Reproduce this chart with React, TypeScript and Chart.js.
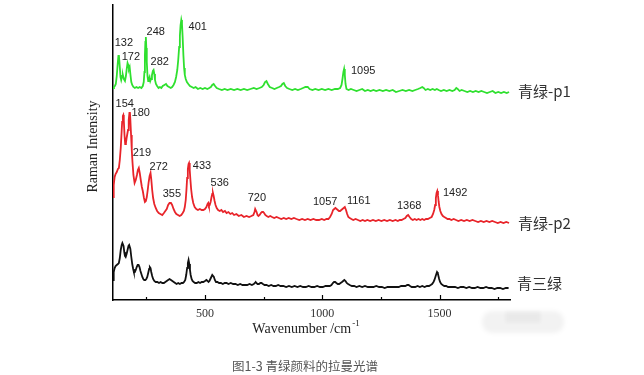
import React, { useEffect, useRef } from "react";
import { Chart, registerables } from "chart.js";

Chart.register(...registerables);

// Raman spectra: [wavenumber (cm-1), relative intensity (offset, a.u.)]
const p1Spectrum: [number, number][] = [
  [108,212],[112,213],[116,214],[120,216],[124,224],[128,236],[131,244],[133,245],[136,236],[140,223],[143,220],[147,224],[150,225],[154,221],[159,219],[163,224],[167,232],[170,237],[173,235],[176,231],[179,233],[182,226],[186,218],[190,215],[195,213],[201,212],[208,213],[215,212],[222,213],[229,212],[235,214],[239,218],[242,228],[244,245],[246,258],[248,263],[250,252],[252,238],[255,224],[258,219],[261,221],[264,223],[267,219],[270,221],[274,225],[278,229],[281,230],[284,226],[287,220],[291,216],[296,214],[302,212],[308,213],[314,212],[320,214],[327,215],[334,216],[340,214],[347,213],[354,212],[360,213],[366,215],[372,218],[377,223],[382,230],[386,240],[390,253],[393,264],[396,275],[399,280],[402,276],[405,262],[408,245],[411,232],[414,225],[418,221],[423,218],[429,216],[436,214],[444,213],[452,212],[460,213],[470,211],[480,212],[490,211],[500,212],[510,211],[518,212],[525,213],[531,215],[537,216],[543,214],[550,212],[560,211],[572,210],[584,211],[596,210],[610,211],[624,210],[638,211],[652,210],[666,211],[680,210],[694,211],[708,212],[720,211],[732,212],[742,213],[750,215],[756,218],[762,219],[768,216],[776,213],[786,212],[796,211],[806,212],[816,213],[824,214],[830,216],[836,217],[842,214],[850,212],[860,211],[872,210],[884,211],[896,210],[908,211],[918,212],[928,213],[938,213],[946,211],[958,210],[970,211],[984,210],[998,211],[1012,210],[1026,211],[1040,210],[1054,211],[1066,211],[1076,212],[1082,215],[1086,221],[1090,228],[1093,231],[1096,225],[1099,216],[1103,211],[1112,210],[1122,211],[1134,210],[1146,209],[1158,210],[1170,211],[1182,209],[1194,210],[1206,209],[1218,210],[1230,209],[1244,210],[1258,209],[1272,210],[1286,209],[1300,210],[1314,208],[1328,209],[1342,210],[1356,209],[1370,210],[1384,209],[1396,210],[1408,211],[1418,212],[1426,213],[1432,212],[1440,210],[1450,211],[1460,210],[1470,211],[1480,210],[1488,211],[1496,210],[1506,209],[1518,210],[1530,209],[1542,210],[1554,209],[1564,210],[1571,212],[1577,211],[1585,209],[1594,210],[1606,209],[1618,208],[1630,209],[1642,208],[1654,209],[1666,208],[1678,209],[1690,208],[1702,207],[1714,208],[1726,209],[1738,207],[1750,208],[1762,207],[1774,208],[1786,207],[1796,208]
];

const p2Spectrum: [number, number][] = [
  [108,103],[111,115],[115,123],[119,126],[124,128],[129,131],[133,132],[137,140],[141,152],[144,165],[147,178],[150,184],[152,185],[154,180],[157,165],[160,156],[163,157],[166,162],[169,166],[172,170],[175,180],[178,187],[180,188],[182,180],[185,165],[188,150],[191,138],[195,125],[200,117],[205,120],[210,125],[214,130],[218,132],[222,127],[227,119],[231,113],[235,109],[240,102],[244,98],[248,99],[252,103],[256,110],[260,118],[264,124],[268,127],[271,121],[275,110],[279,102],[284,96],[290,92],[296,89],[303,87],[310,86],[318,85],[325,87],[331,89],[337,91],[343,95],[349,97],[355,97],[360,95],[366,91],[372,88],[378,86],[385,85],[392,84],[399,85],[405,87],[410,89],[414,93],[418,100],[421,110],[424,122],[427,131],[430,136],[432,137],[435,130],[438,120],[441,111],[445,103],[450,97],[456,93],[463,91],[470,90],[478,91],[486,90],[493,90],[500,91],[506,93],[511,96],[514,97],[517,94],[520,95],[524,98],[528,103],[531,106],[534,107],[537,104],[541,99],[545,95],[550,92],[556,90],[563,89],[570,90],[577,88],[585,89],[592,87],[600,88],[608,86],[616,87],[624,85],[634,86],[644,84],[655,85],[666,83],[677,84],[688,83],[698,84],[706,85],[711,88],[714,91],[717,91],[720,88],[724,85],[728,84],[733,85],[738,87],[743,88],[748,88],[752,87],[757,85],[763,84],[770,83],[778,84],[786,83],[795,82],[805,83],[815,82],[825,81],[836,82],[846,81],[857,82],[868,81],[879,82],[890,81],[902,80],[914,81],[926,80],[938,81],[950,80],[962,81],[974,80],[986,80],[998,81],[1008,80],[1018,81],[1026,81],[1033,83],[1040,86],[1046,90],[1051,91],[1056,92],[1061,91],[1066,90],[1071,89],[1076,89],[1081,90],[1086,91],[1091,92],[1096,93],[1101,90],[1106,86],[1111,83],[1117,82],[1124,81],[1132,80],[1142,81],[1152,80],[1162,79],[1172,80],[1182,79],[1192,80],[1204,79],[1216,80],[1228,79],[1240,80],[1252,79],[1264,80],[1276,79],[1288,80],[1300,79],[1312,80],[1322,79],[1330,80],[1338,80],[1346,81],[1354,82],[1360,84],[1366,85],[1372,83],[1379,81],[1386,80],[1394,81],[1402,80],[1410,81],[1418,80],[1426,81],[1434,80],[1442,81],[1450,81],[1458,82],[1466,83],[1472,86],[1477,90],[1481,95],[1484,102],[1487,107],[1490,109],[1493,105],[1496,98],[1499,93],[1503,89],[1508,86],[1514,84],[1520,83],[1527,82],[1534,81],[1542,81],[1550,80],[1560,81],[1570,80],[1580,79],[1592,80],[1604,79],[1616,80],[1628,79],[1640,80],[1652,79],[1664,78],[1676,79],[1688,78],[1700,79],[1712,78],[1724,79],[1736,78],[1748,77],[1760,78],[1772,77],[1784,78],[1796,77]
];

const qslSpectrum: [number, number][] = [
  [108,20],[111,28],[115,32],[119,34],[124,35],[129,36],[133,37],[137,42],[141,50],[145,55],[148,57],[150,57],[153,54],[156,48],[159,44],[162,43],[166,46],[170,50],[174,54],[177,55],[179,55],[182,51],[186,43],[190,36],[194,31],[197,28],[201,28],[205,30],[209,33],[213,35],[217,35],[221,33],[225,29],[229,26],[233,23],[237,21],[241,20],[246,20],[250,21],[254,23],[258,27],[262,31],[265,33],[268,32],[271,28],[275,24],[279,21],[284,19],[290,18],[297,18],[304,17],[311,18],[318,17],[325,17],[331,18],[337,19],[343,20],[349,21],[355,20],[361,19],[367,18],[373,17],[379,16],[386,17],[393,16],[400,17],[406,17],[411,18],[416,20],[420,25],[424,32],[427,37],[430,40],[433,36],[436,30],[439,25],[443,21],[447,19],[452,18],[458,17],[465,17],[472,18],[479,17],[486,18],[493,18],[500,19],[506,20],[511,19],[515,18],[519,19],[523,21],[527,23],[531,25],[534,25],[538,23],[542,20],[547,18],[553,18],[560,17],[568,17],[576,16],[584,17],[592,17],[600,16],[610,17],[620,16],[630,16],[640,15],[650,16],[660,15],[670,15],[680,15],[690,16],[700,15],[708,16],[713,17],[716,18],[719,17],[724,16],[730,16],[736,17],[741,17],[747,16],[754,15],[762,15],[772,14],[782,15],[792,14],[802,14],[812,15],[822,14],[834,14],[846,13],[858,14],[870,13],[882,14],[894,13],[906,14],[918,13],[930,13],[942,14],[954,13],[966,13],[978,14],[990,13],[1002,13],[1014,14],[1024,14],[1032,14],[1039,15],[1045,17],[1050,18],[1055,18],[1060,17],[1066,16],[1072,16],[1078,17],[1084,18],[1089,19],[1094,20],[1099,19],[1104,17],[1110,16],[1117,15],[1126,14],[1136,14],[1146,13],[1158,14],[1170,13],[1182,14],[1194,13],[1206,13],[1218,13],[1230,14],[1242,13],[1254,13],[1266,12],[1278,13],[1290,13],[1302,13],[1314,13],[1326,13],[1336,14],[1346,14],[1354,14],[1362,15],[1368,15],[1374,14],[1381,13],[1388,13],[1396,13],[1406,14],[1416,13],[1426,14],[1436,13],[1446,14],[1455,14],[1462,15],[1468,16],[1474,18],[1478,20],[1482,23],[1486,26],[1489,28],[1492,27],[1495,24],[1498,21],[1502,18],[1507,16],[1513,15],[1520,14],[1528,14],[1536,13],[1546,13],[1556,13],[1566,13],[1578,12],[1590,13],[1602,13],[1614,12],[1626,13],[1638,12],[1650,12],[1662,13],[1674,12],[1686,12],[1698,13],[1710,12],[1722,12],[1734,11],[1746,12],[1758,12],[1770,11],[1782,12],[1794,12]
];

const seriesNames = ["青绿-p1", "青绿-p2", "青三绿"];
const seriesColors = ["#2fe02f", "#e8242a", "#111111"];
// label anchors (left-middle of text) in data units
const seriesLabelPos: [number, number][] = [[1834, 209], [1834, 77], [1830, 17]];

// peak annotations: [text, wavenumber anchor, intensity anchor]
const peakLabels: [string, number, number][] = [
  ["132", 115, 257], ["172", 145, 243], ["248", 251, 268], ["282", 268, 238], ["401", 430, 273], ["1095", 1122, 229],
  ["154", 119, 196], ["180", 187, 187], ["219", 192, 147], ["272", 264, 133], ["355", 320, 106], ["433", 448, 134],
  ["536", 524, 117], ["720", 682, 102], ["1057", 960, 98], ["1161", 1105, 99], ["1368", 1318, 94], ["1492", 1514, 107],
];

const xMajorTicks = [500, 1000, 1500];
const xMinorTicks = [250, 750, 1250, 1750];
const xMin = 108;
const xMax = 1800;
const yMin = 0;
const yMax = 295;

const xTitle = "Wavenumber /cm";
const xTitleSup = "-1";
const yTitle = "Raman Intensity";
const caption = "图1-3 青绿颜料的拉曼光谱";

const annotations = {
  id: "annotations",
  afterDraw(chart: any) {
    const ctx = chart.ctx as CanvasRenderingContext2D;
    const xs = chart.scales.x;
    const ys = chart.scales.y;
    const area = chart.chartArea;
    ctx.save();
    // inward ticks on x axis
    ctx.strokeStyle = "#000";
    ctx.lineWidth = 1.2;
    const drawTick = (v: number, len: number) => {
      const px = Math.round(xs.getPixelForValue(v)) + 0.5;
      ctx.beginPath();
      ctx.moveTo(px, area.bottom);
      ctx.lineTo(px, area.bottom - len);
      ctx.stroke();
    };
    xMajorTicks.forEach((v) => drawTick(v, 5));
    xMinorTicks.forEach((v) => drawTick(v, 3));

    // peak labels
    ctx.fillStyle = "#222";
    ctx.font = '11px "Liberation Sans", Arial, sans-serif';
    ctx.textAlign = "left";
    ctx.textBaseline = "middle";
    peakLabels.forEach(([t, w, v]) => {
      ctx.fillText(t, xs.getPixelForValue(w), ys.getPixelForValue(v));
    });

    // series labels
    ctx.fillStyle = "#333";
    ctx.font = '15px "Noto Sans CJK SC", "Noto Sans", sans-serif';
    seriesNames.forEach((n, i) => {
      const [w, v] = seriesLabelPos[i];
      ctx.fillText(n, xs.getPixelForValue(w), ys.getPixelForValue(v));
    });

    // axis titles
    ctx.fillStyle = "#222";
    ctx.font = '14px "Liberation Serif", "Times New Roman", serif';
    const mainW = ctx.measureText(xTitle).width;
    ctx.font = '9px "Liberation Serif", "Times New Roman", serif';
    const supW = ctx.measureText(xTitleSup).width;
    const cx = (area.left + area.right) / 2 - 6;
    const startX = cx - (mainW + supW) / 2;
    const ty = area.bottom + 29;
    ctx.font = '14px "Liberation Serif", "Times New Roman", serif';
    ctx.textAlign = "left";
    ctx.fillText(xTitle, startX, ty);
    ctx.font = '9px "Liberation Serif", "Times New Roman", serif';
    ctx.fillText(xTitleSup, startX + mainW + 1, ty - 5);

    ctx.save();
    ctx.font = '14px "Liberation Serif", "Times New Roman", serif';
    ctx.translate(area.left - 20, (area.top + area.bottom) / 2 - 6);
    ctx.rotate(-Math.PI / 2);
    ctx.textAlign = "center";
    ctx.fillText(yTitle, 0, 0);
    ctx.restore();

    // faint blurred watermark
    ctx.save();
    ctx.filter = "blur(2px)";
    ctx.fillStyle = "rgba(0,0,0,0.05)";
    ctx.beginPath();
    (ctx as any).roundRect(482, 311, 82, 22, 10);
    ctx.fill();
    ctx.fillStyle = "rgba(0,0,0,0.04)";
    ctx.fillRect(505, 311, 36, 12);
    ctx.restore();

    // caption
    ctx.fillStyle = "#555";
    ctx.font = '12.5px "Noto Sans CJK SC", sans-serif';
    ctx.textAlign = "left";
    ctx.fillText(caption, 232, 366);
    ctx.restore();
  },
};

export default function App() {
  const ref = useRef<HTMLCanvasElement | null>(null);
  useEffect(() => {
    if (!ref.current) return;
    const spectra = [p1Spectrum, p2Spectrum, qslSpectrum];
    const chart = new Chart(ref.current, {
      type: "line",
      data: {
        datasets: spectra.map((s, i) => ({
          label: seriesNames[i],
          data: s.map(([x, y]) => ({ x, y })),
          borderColor: seriesColors[i],
          borderWidth: 1.8,
          pointRadius: 0,
          tension: 0,
          fill: false,
        })),
      },
      options: {
        responsive: false,
        animation: false,
        events: [],
        layout: { padding: { top: 5, right: 134, left: 0, bottom: 0 } },
        plugins: { legend: { display: false }, tooltip: { enabled: false } },
        scales: {
          x: {
            type: "linear",
            min: xMin,
            max: xMax,
            afterFit: (s: any) => { s.height = 75; },
            afterBuildTicks: (s: any) => { s.ticks = xMajorTicks.map((v) => ({ value: v })); },
            grid: { display: false, drawTicks: false, tickLength: 0 },
            border: { display: true, color: "#000", width: 1.5 },
            ticks: {
              padding: 7,
              color: "#333",
              font: { family: '"Liberation Serif", "Times New Roman", serif', size: 12 },
              maxRotation: 0,
              callback: (v: any) => String(v),
            },
          },
          y: {
            type: "linear",
            min: yMin,
            max: yMax,
            afterFit: (s: any) => { s.width = 113; },
            grid: { display: false, drawTicks: false },
            border: { display: true, color: "#000", width: 1.5 },
            ticks: { display: false },
          },
        },
      },
      plugins: [annotations],
    });
    return () => chart.destroy();
  }, []);
  return (
    <div style={{ position: "fixed", left: 0, top: 0, width: 644, height: 375, background: "#fff" }}>
      <canvas ref={ref} width={644} height={375} style={{ width: 644, height: 375, display: "block" }} />
    </div>
  );
}
